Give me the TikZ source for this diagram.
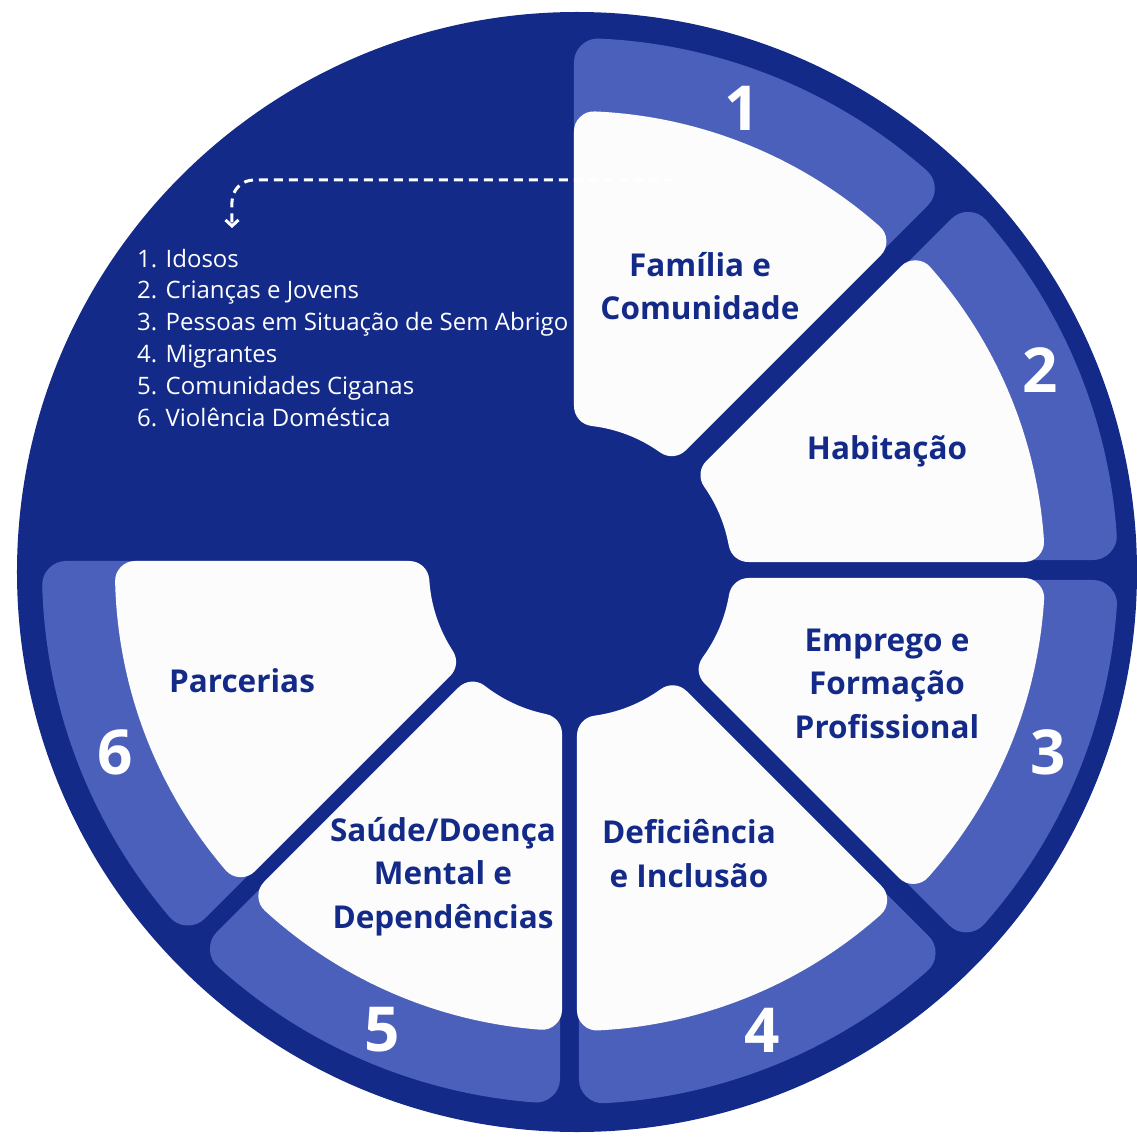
\documentclass[tikz,border=0pt]{standalone}
\usepackage{fontspec}
\setmainfont{Open Sans}
\usepackage{xcolor}
\usetikzlibrary{arrows.meta}

\definecolor{navy}{HTML}{132A89}
\definecolor{band}{HTML}{4B60BB}
\definecolor{paper}{HTML}{FCFCFC}

\tikzset{
	topic/.style={text=navy, font=\fontsize{31.5}{43.5}\selectfont\bfseries, align=center, anchor=base, inner sep=0pt},
	digit/.style={text=white, font=\fontsize{62}{62}\selectfont\bfseries, inner sep=0pt},
	listing/.style={text=white, font=\fontsize{24}{32}\selectfont, align=left, anchor=base west, inner sep=0pt},
	hint/.style={white, line width=3pt, dash pattern=on 9pt off 6pt, rounded corners=22pt},
}

% start angle, outer radius, corner radius, start gap, end gap, colour
\newcommand{\piece}[6]{%
	\pgfmathsetmacro{\segro}{#2-#3}
	\pgfmathsetmacro{\segri}{146+#3}
	\pgfmathsetmacro{\segsa}{asin((#4+#3)/\segro)}
	\pgfmathsetmacro{\segea}{asin((#5+#3)/\segro)}
	\pgfmathsetmacro{\segsb}{asin((#4+#3)/\segri)}
	\pgfmathsetmacro{\segeb}{asin((#5+#3)/\segri)}
	\filldraw[#6, line join=round, line width=2*#3]
		({#1-\segsa}:\segro) arc[start angle={#1-\segsa}, end angle={#1-45+\segea}, radius=\segro]
		-- ({#1-45+\segeb}:\segri) arc[start angle={#1-45+\segeb}, end angle={#1-\segsb}, radius=\segri] -- cycle;
}

\begin{document}
\begin{tikzpicture}[x=1pt, y=1pt]
	\useasboundingbox (-575,-567) rectangle (562,571);
	\coordinate (O) at (0,0);
	\fill[navy] (2,-1) circle (560);

	\foreach \a/\dx/\gs/\ge/\ls/\le in {90/0/-1/7/-1/9, 45/10/8/9/10/11, 0/10/7/5/9/7, -45/0/6/2/8/4, -90/0/13/0/15/2, -135/0/14/-10/16/-10} {
		\begin{scope}[shift={(\dx,0)}]
			\piece{\a}{533}{24}{\ls}{\le}{band}
			\piece{\a}{460}{20}{\gs}{\ge}{paper}
		\end{scope}
	}

	\foreach \n/\x/\y in {1/167/463, 2/465/201, 3/473/-181, 4/187/-459, 5/-193/-459, 6/-460/-181} {
		\node[digit] (num\n) at (\x,\y) {\n};
	}

	\node[topic] (familia) at (125,251) {Família e\\Comunidade};
	\node[topic] (habitacao) at (312,112) {Habitação};
	\node[topic] (emprego) at (312,-167) {Emprego e\\Formação\\Profissional};
	\node[topic] (deficiencia) at (114,-316) {Deficiência\\e Inclusão};
	\node[topic] (saude) at (-132,-357) {Saúde/Doença\\Mental e\\Dependências};
	\node[topic] (parcerias) at (-333,-121) {Parcerias};

	\node[listing] (grupos) at (-438,144) {1. Idosos\\2. Crianças e Jovens\\3. Pessoas em Situação de Sem Abrigo\\4. Migrantes\\5. Comunidades Ciganas\\6. Violência Doméstica};

	\coordinate (tail) at (98,391);
	\coordinate (head) at (-343,343);
	\draw[hint, -{Straight Barb[length=6pt, width=13pt]}] (tail) -| (head);
\end{tikzpicture}
\end{document}
